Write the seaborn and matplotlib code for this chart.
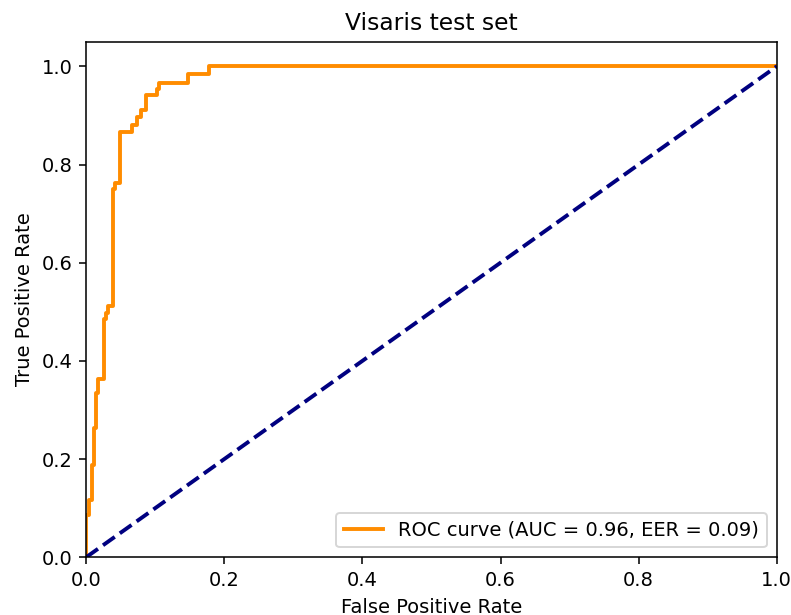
import matplotlib
matplotlib.use("Agg")
import matplotlib.pyplot as plt
import seaborn as sns

# ROC curve vertices
FPR = [0.0, 0.0, 0.004, 0.004, 0.009, 0.009, 0.011, 0.011, 0.014, 0.014,
       0.017, 0.017, 0.026, 0.026, 0.029, 0.029, 0.032, 0.032, 0.039, 0.039,
       0.042, 0.042, 0.049, 0.049, 0.066, 0.066, 0.074, 0.074, 0.080, 0.080,
       0.087, 0.087, 0.102, 0.102, 0.105, 0.105, 0.148, 0.148, 0.178, 0.178, 1.0]
TPR = [0.0, 0.085, 0.085, 0.116, 0.116, 0.187, 0.187, 0.264, 0.264, 0.335,
       0.335, 0.364, 0.364, 0.486, 0.486, 0.498, 0.498, 0.512, 0.512, 0.750,
       0.750, 0.762, 0.762, 0.866, 0.866, 0.880, 0.880, 0.896, 0.896, 0.911,
       0.911, 0.941, 0.941, 0.953, 0.953, 0.967, 0.967, 0.984, 0.984, 1.0, 1.0]
DIAG = [0.0, 1.0]
AUC = 0.96
EER = 0.09

DPI = 140
fig, ax = plt.subplots(figsize=(791 / DPI, 615 / DPI), dpi=DPI)
fig.subplots_adjust(left=0.109, right=0.982, top=0.932, bottom=0.094)

sns.lineplot(x=FPR, y=TPR, sort=False, estimator=None, color="darkorange", lw=2,
             label=f"ROC curve (AUC = {AUC:.2f}, EER = {EER:.2f})", ax=ax)
sns.lineplot(x=DIAG, y=DIAG, sort=False, estimator=None, color="navy", lw=2,
             linestyle="--", ax=ax)

ax.set_xlim(0.0, 1.0)
ax.set_ylim(0.0, 1.05)
ax.set_xlabel("False Positive Rate")
ax.set_ylabel("True Positive Rate")
ax.set_title("Visaris test set")
ax.legend(loc="lower right")

fig.savefig("out.png", dpi=DPI)
